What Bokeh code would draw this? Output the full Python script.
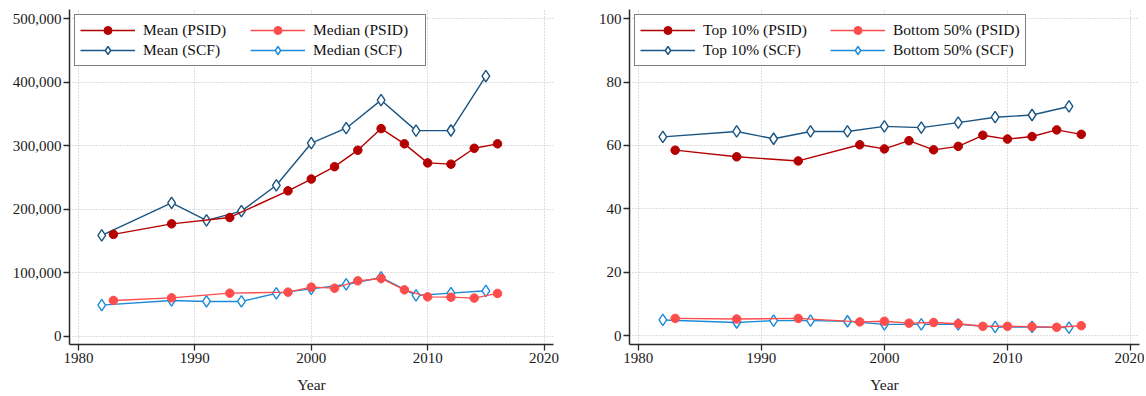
from bokeh.plotting import figure
from bokeh.layouts import row
from bokeh.models import Range1d, Legend, LegendItem, NumeralTickFormatter, FixedTicker
from bokeh.embed import file_html
from bokeh.resources import INLINE

# ---- data ----
years_psid = [1983, 1988, 1993, 1998, 2000, 2002, 2004, 2006, 2008, 2010, 2012, 2014, 2016]
years_scf = [1982, 1988, 1991, 1994, 1997, 2000, 2003, 2006, 2009, 2012, 2015]

mean_psid = [160400, 177000, 187000, 229000, 247500, 267000, 293000, 327000, 303000, 273000, 271000, 296000, 303000]
median_psid = [56300, 60400, 67800, 69400, 77300, 75700, 87200, 91000, 73000, 62000, 61500, 60000, 67400]
mean_scf = [158800, 210000, 182500, 197000, 237700, 304000, 327600, 371800, 323800, 324000, 409600]
median_scf = [48900, 56300, 54700, 54700, 67400, 74600, 81500, 92500, 64200, 67800, 71500]

top10_psid = [58.5, 56.4, 55.1, 60.2, 58.9, 61.5, 58.6, 59.7, 63.2, 62.0, 62.8, 64.9, 63.5]
bottom50_psid = [5.4, 5.2, 5.4, 4.3, 4.5, 3.9, 4.1, 3.7, 2.9, 2.9, 2.8, 2.6, 3.1]
top10_scf = [62.7, 64.4, 62.1, 64.4, 64.4, 66.0, 65.6, 67.2, 68.9, 69.6, 72.3]
bottom50_scf = [4.9, 4.1, 4.7, 4.7, 4.5, 3.5, 3.5, 3.5, 2.7, 2.7, 2.5]

x_ticks = [1980, 1990, 2000, 2010, 2020]
left_yticks = [0, 100000, 200000, 300000, 400000, 500000]
right_yticks = [0, 20, 40, 60, 80, 100]

labels_left = ["Mean (PSID)", "Median (PSID)", "Mean (SCF)", "Median (SCF)"]
labels_right = ["Top 10% (PSID)", "Bottom 50% (PSID)", "Top 10% (SCF)", "Bottom 50% (SCF)"]

DARK_RED = "#B40000"
LIGHT_RED = "#FF4D4D"
DARK_BLUE = "#1A5583"
LIGHT_BLUE = "#1C8AD8"
FONT = "Liberation Serif"


def make_panel(width, bl, br, xr, yr, yticks, series, labels, label_w, fmt=None):
    p = figure(width=width, height=396, output_backend="svg", toolbar_location=None,
               x_range=Range1d(*xr), y_range=Range1d(*yr),
               min_border_left=bl, min_border_right=br, min_border_top=9, min_border_bottom=52)
    p.outline_line_color = None
    p.background_fill_color = "white"
    p.border_fill_color = "white"

    for g in (p.xgrid, p.ygrid):
        g.grid_line_color = "#BDBDBD"
        g.grid_line_dash = "1 2"
        g.grid_line_width = 1
    p.xaxis.ticker = FixedTicker(ticks=x_ticks)
    p.yaxis.ticker = FixedTicker(ticks=yticks)
    if fmt:
        p.yaxis.formatter = NumeralTickFormatter(format=fmt)

    for ax in (p.xaxis, p.yaxis):
        ax.axis_line_color = "#2A2A2A"
        ax.axis_line_width = 1.5
        ax.major_tick_line_color = "#2A2A2A"
        ax.major_tick_line_width = 1.3
        ax.major_tick_out = 6
        ax.major_tick_in = 0
        ax.minor_tick_line_color = None
        ax.major_label_text_font = FONT
        ax.major_label_text_font_size = "15px"
        ax.major_label_text_color = "#1A1A1A"
        ax.major_label_standoff = 2
    p.xaxis.axis_label = "Year"
    p.xaxis.axis_label_text_font = FONT
    p.xaxis.axis_label_text_font_style = "normal"
    p.xaxis.axis_label_text_font_size = "15.5px"
    p.xaxis.axis_label_text_color = "#1A1A1A"
    p.xaxis.axis_label_standoff = 10

    renderers = {}
    for i in [2, 3, 0, 1]:  # SCF below, PSID on top
        xs, ys, color, kind = series[i]
        r_line = p.line(xs, ys, line_color=color, line_width=1.4)
        if kind == "circle":
            r_mark = p.scatter(xs, ys, marker="circle", size=8.5, fill_color=color, line_color=color)
        else:
            r_mark = p.scatter(xs, ys, marker="diamond", size=11.5,
                               fill_color="white", line_color=color, line_width=1.4)
        renderers[i] = [r_line, r_mark]

    # column-major fill: col 1 = first measure, col 2 = second measure
    items = [LegendItem(label=labels[i], renderers=renderers[i]) for i in (0, 2, 1, 3)]
    legend = Legend(items=items, location="top_left", ncols=2,
                    label_text_font=FONT, label_text_font_size="15.5px", label_text_color="#111111",
                    glyph_width=55, glyph_height=20, label_height=20, label_width=label_w,
                    label_standoff=8, spacing=0, padding=5, margin=5,
                    border_line_color="black", border_line_width=1.3,
                    background_fill_color="white", background_fill_alpha=1.0)
    p.add_layout(legend)
    return p


left_series = [
    (years_psid, mean_psid, DARK_RED, "circle"),
    (years_psid, median_psid, LIGHT_RED, "circle"),
    (years_scf, mean_scf, DARK_BLUE, "diamond"),
    (years_scf, median_scf, LIGHT_BLUE, "diamond"),
]
right_series = [
    (years_psid, top10_psid, DARK_RED, "circle"),
    (years_psid, bottom50_psid, LIGHT_RED, "circle"),
    (years_scf, top10_scf, DARK_BLUE, "diamond"),
    (years_scf, bottom50_scf, LIGHT_BLUE, "diamond"),
]

p1 = make_panel(576, 69, 23, (1979.23, 2020.81), (-13060, 514600), left_yticks,
                left_series, labels_left, 107, fmt="0,0")
p2 = make_panel(568, 53, 5, (1979.29, 2020.73), (-2.84, 102.9), right_yticks,
                right_series, labels_right, 127)

layout = row(p1, p2)
open("out.html", "w").write(file_html(layout, INLINE))
